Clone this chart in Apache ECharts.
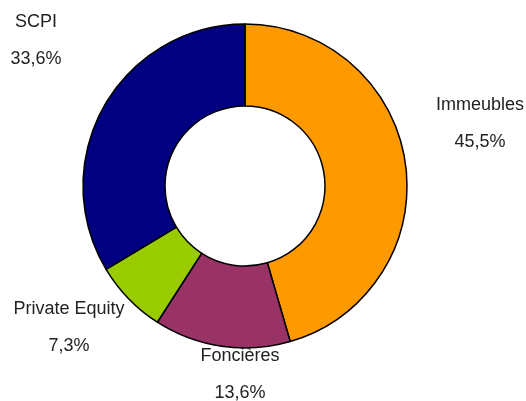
<!DOCTYPE html>
<html>
<head>
<meta charset="utf-8">
<script src="https://cdn.jsdelivr.net/npm/echarts@6/dist/echarts.min.js"></script>
<style>
html, body { margin: 0; padding: 0; background: #fff; }
#chart { width: 526px; height: 401px; }
</style>
</head>
<body>
<div id="chart"></div>
<script>
var categories = ['Immeubles', 'Foncières', 'Private Equity', 'SCPI'];
var values = [45.5, 13.6, 7.3, 33.6];
var colors = ['#FF9900', '#993366', '#99CC00', '#000080'];

// where Excel puts each label block (centre, px)
var labelPos = [[480, 124], [240, 375], [69, 328], [36, 41]];

var myChart = echarts.init(document.getElementById('chart'));
var option = {
    animation: false,
    series: [{
        type: 'pie',
        center: [245, 186],
        radius: [80, 162],
        startAngle: 90,
        clockwise: true,
        data: categories.map(function (c, i) {
            return { name: c, value: values[i], itemStyle: { color: colors[i] } };
        }),
        itemStyle: {
            borderColor: '#000',
            borderWidth: 1.5
        },
        label: {
            show: true,
            position: 'outside',
            overflow: 'none',
            fontFamily: '"Liberation Sans", Arial, sans-serif',
            fontSize: 18,
            lineHeight: 37,
            color: '#222',
            align: 'center',
            formatter: function (p) {
                return p.name + '\n' + p.value.toFixed(1).replace('.', ',') + '%';
            }
        },
        labelLine: { show: false },
        labelLayout: function (params) {
            var pos = labelPos[params.dataIndex];
            return {
                x: pos[0],
                y: pos[1],
                align: 'center',
                verticalAlign: 'middle'
            };
        }
    }]
};
myChart.setOption(option);
</script>
</body>
</html>
